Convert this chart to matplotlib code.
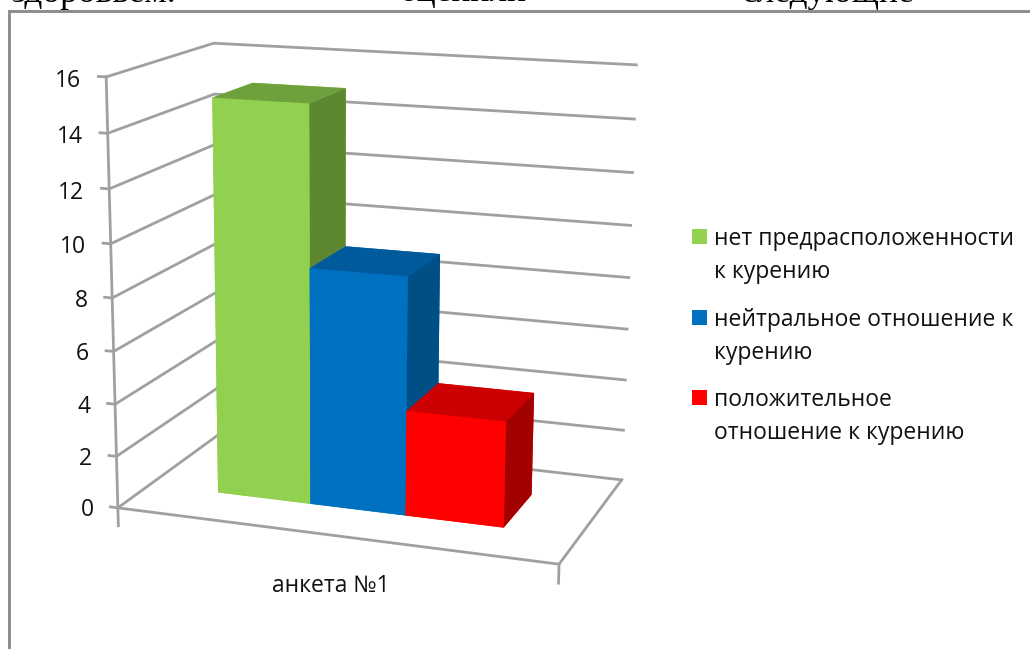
import numpy as np
import matplotlib
matplotlib.use('Agg')
import matplotlib.pyplot as plt
from matplotlib.patches import Rectangle

# данные
series = ['нет предрасположенности\nк курению',
          'нейтральное отношение к\nкурению',
          'положительное\nотношение к курению']
values = [15, 9, 4]
category = 'анкета №1'
yticks = [0, 2, 4, 6, 8, 10, 12, 14, 16]
front = ['#92D050', '#0070C0', '#FF0000']
top = ['#6EA03C', '#005A9C', '#CC0000']
side = ['#5E8732', '#004E86', '#A30000']
grid_c = '#A0A0A0'

W, H = 1030, 649
plt.rcParams['font.family'] = ['Open Sans', 'DejaVu Sans']
fs = 16.5

# камера: куда попадают углы "коробки" графика (x, y=глубина, z) -> пиксели
world = np.array([[0, 0, 0], [1, 0, 0], [1, 1, 0], [0, 1, 0],
                  [0, 0, 16], [0, 1, 16], [1, 1, 16]], float)
pix = np.array([[119, 507], [559, 565], [622, 479], [218, 435],
                [105, 77], [215, 43], [636, 65]], float)
A = []
for (x, y, z), (u, v) in zip(world, pix):
    A.append([x, y, z, 1, 0, 0, 0, 0, -u*x, -u*y, -u*z, -u])
    A.append([0, 0, 0, 0, x, y, z, 1, -v*x, -v*y, -v*z, -v])
P = np.linalg.svd(np.array(A))[2][-1].reshape(3, 4)
if P[2, 3] < 0:
    P = -P
P = P / P[2, 3]
M = np.vstack([P[0], P[1], P[2] - [0, 0, 0, 0.5], P[2]])


def label(x, y, z, s, **kw):
    # подпись в точке графика, но как обычный текст фигуры
    u, v, w = P @ [x, y, z, 1]
    fig.text(u/w/W, 1 - v/w/H, s, va='center', fontsize=fs, color='#111111', **kw)


fig = plt.figure(figsize=(W/100, H/100), dpi=100)
S = W / H
ax = fig.add_axes([0, (1 - S)/2, 1, S], projection='3d', computed_zorder=False)
ax.set_proj_type('ortho')  # иначе mplot3d маскирует точки вне [-1, 1]
ax.get_proj = lambda: M
ax.set_axis_off()
ax.viewLim.intervalx = (0, W)
ax.viewLim.intervaly = (H/2 + W/2, H/2 - W/2)
ax.patch.set_visible(False)

# сетка
lw = 2.0
for t in yticks:
    ax.plot([0, 0, 1], [0, 1, 1], [t, t, t], color=grid_c, lw=lw, zorder=1)
    ax.plot([-0.018, 0], [0, 0], [t, t], color=grid_c, lw=lw, zorder=1)
    label(-0.059, 0, t - 0.2, str(t), ha='right')
ax.plot([0, 0], [0, 0], [0, 16], color=grid_c, lw=lw, zorder=1)
ax.plot([0, 1, 1], [0, 0, 1], [0, 0, 0], color=grid_c, lw=lw, zorder=1)
ax.plot([0, 0], [0, 0], [0, -0.7], color=grid_c, lw=lw, zorder=1)
ax.plot([1, 1], [0, 0], [0, -0.7], color=grid_c, lw=lw, zorder=1)
label(0.5, 0, -1.95, category, ha='center')

# столбики: зазоры как в Excel (150%)
n = len(values)
gap = 1.5
bw = 1 / (n + gap)
bd = 1 / (1 + gap)
x0 = gap * bw / 2
y0 = (1 - bd) / 2
for i, v in enumerate(values):
    # порядок граней bar3d: низ, верх, перед, зад, лево, право
    cols = [front[i], top[i], front[i], front[i], front[i], side[i]]
    ax.bar3d(x0 + i*bw, y0, 0, bw, bd, v, color=cols, shade=False, zorder=2 + i)

# легенда
leg_y = [236.5, 317.5, 397.5]
for name, c, ly in zip(series, front, leg_y):
    fig.patches.append(Rectangle((692/W, 1 - (ly + 7.5)/H), 15/W, 15/H,
                                 transform=fig.transFigure, fc=c, ec='none', figure=fig))
    fig.text(714/W, 1 - (ly + 19)/H, name, ha='left', va='center', fontsize=fs,
             color='#111111', linespacing=1.49)

# рамка и обрезанный текст сверху
fig.patches.append(Rectangle((9/W, -0.1), 1.2, 1 - 10.5/H + 0.1, transform=fig.transFigure,
                             fc='none', ec='#8C8C8C', lw=2.1, figure=fig))
for word, tx in zip(['здоровьем.', 'оценили', 'следующие'], [12, 400, 742]):
    fig.text(tx/W, 1 - 1.5/H, word, ha='left', va='baseline', fontsize=25.5,
             family='Liberation Serif', color='black')

fig.savefig('out.png', dpi=100)
